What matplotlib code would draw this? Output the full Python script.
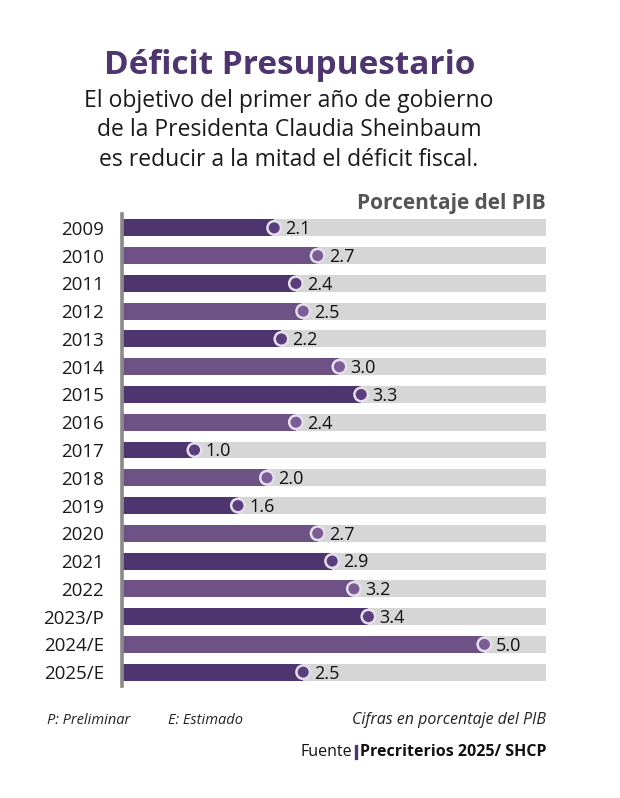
import matplotlib as mpl
mpl.use("Agg")
import matplotlib.pyplot as plt
from matplotlib.patches import Rectangle

# data
years = ['2009', '2010', '2011', '2012', '2013', '2014', '2015', '2016', '2017',
         '2018', '2019', '2020', '2021', '2022', '2023/P', '2024/E', '2025/E']
deficit = [2.1, 2.7, 2.4, 2.5, 2.2, 3.0, 3.3, 2.4, 1.0,
           2.0, 1.6, 2.7, 2.9, 3.2, 3.4, 5.0, 2.5]
bg_max = 5.85

dark = '#4f3570'
light = '#6f5285'
dot_dark = '#5a3e7d'
dot_light = '#7b5c96'
grey = '#d6d6d6'

plt.rcParams['font.family'] = ['Open Sans', 'DejaVu Sans']

W, H = 620, 798
fig = plt.figure(figsize=(W / 100, H / 100), dpi=100)
fig.patch.set_facecolor('white')

def fx(px):
  return px / W

def fy(py):
  return 1 - py / H

ax = fig.add_axes([fx(122), fy(686), fx(546) - fx(122), (686 - 214) / H])

ypos = list(range(len(years)))
bar_cols = [dark if i % 2 == 0 else light for i in ypos]
dot_cols = [dot_dark if i % 2 == 0 else dot_light for i in ypos]

ax.barh(ypos, [bg_max] * len(years), height=0.61, color=grey, zorder=1)
ax.barh(ypos, deficit, height=0.61, color=bar_cols, zorder=2)
ax.scatter(deficit, ypos, s=95, color=dot_cols, edgecolor='#e4dfea',
           linewidth=1.8, zorder=3, clip_on=False)
for v, y in zip(deficit, ypos):
  ax.annotate('%.1f' % v, (v, y), xytext=(8, -1), textcoords='offset points',
              ha='left', va='center', fontsize=13, color='#111111',
              zorder=4, annotation_clip=False)

ax.set_xlim(0, bg_max)
ax.set_ylim(len(years) - 0.5, -0.5)
ax.set_yticks(ypos)
ax.set_yticklabels(years, fontsize=13.5, color='#1a1a1a')
ax.tick_params(axis='y', length=0, pad=13)
ax.set_xticks([])
for s in ['top', 'right', 'bottom']:
  ax.spines[s].set_visible(False)
ax.spines['left'].set_color('#8a8a8a')
ax.spines['left'].set_linewidth(2.6)
ax.spines['left'].set_zorder(5)

# titles
fig.text(fx(290), fy(65), 'Déficit Presupuestario', ha='center', va='center',
         fontsize=24, fontweight='bold', color=dark)
subtitle = ['El objetivo del primer año de gobierno',
            'de la Presidenta Claudia Sheinbaum',
            'es reducir a la mitad el déficit fiscal.']
for i, line in enumerate(subtitle):
  fig.text(fx(289), fy(101 + i * 29.5), line, ha='center', va='center',
           fontsize=16.5, color='#1a1a1a')
fig.text(fx(546), fy(204), 'Porcentaje del PIB', ha='right', va='center',
         fontsize=15, fontweight='bold', color='#555555')

# footer
fig.text(fx(47), fy(720), 'P: Preliminar', ha='left', va='center',
         fontsize=10.5, style='italic', color='#222222')
fig.text(fx(168), fy(720), 'E: Estimado', ha='left', va='center',
         fontsize=10.5, style='italic', color='#222222')
fig.text(fx(546), fy(720), 'Cifras en porcentaje del PIB', ha='right',
         va='center', fontsize=11.5, style='italic', color='#222222')

src = fig.text(fx(546), fy(752), 'Precriterios 2025/ SHCP', ha='right',
               va='center', fontsize=11.5, fontweight='bold', color='#111111')
fig.canvas.draw()
bb = src.get_window_extent()
left_px = bb.x0
fig.patches.append(Rectangle((left_px - 5, bb.y0 + 1), 2.5, bb.height - 2,
                             transform=None, color=dark))
fig.text((left_px - 7) / W, fy(752), 'Fuente', ha='right', va='center',
         fontsize=11.5, color='#111111')

plt.savefig('out.png', dpi=100)
